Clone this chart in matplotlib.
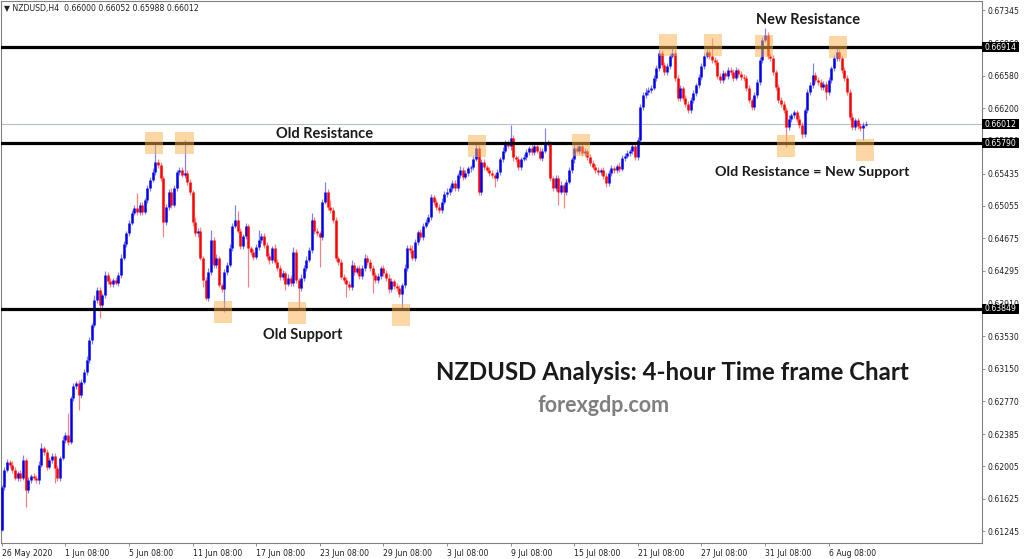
import matplotlib
matplotlib.use("Agg")
import matplotlib.pyplot as plt
import matplotlib.transforms as mtransforms
from matplotlib.patches import Rectangle
import numpy as np

# ---------------- data ----------------
symbol = "NZDUSD,H4"
header_ohlc = [0.66000, 0.66052, 0.65988, 0.66012]
first_open = 0.61260

closes = [
    0.61764, 0.61963, 0.62057, 0.62022, 0.61963, 0.61870, 0.61928, 0.61870, 0.62080, 0.61729,
    0.61846, 0.61893, 0.61870, 0.61846, 0.62022, 0.62221, 0.62174, 0.61998, 0.62080, 0.62127,
    0.61987, 0.61870, 0.62104, 0.62315, 0.62373, 0.62291, 0.62806, 0.62947, 0.62982, 0.62842,
    0.62994, 0.63111, 0.63251, 0.63486, 0.63661, 0.63954, 0.64071, 0.63895, 0.64012, 0.64247,
    0.64177, 0.64141, 0.64188, 0.64153, 0.64247, 0.64446, 0.64610, 0.64739, 0.64856, 0.64973,
    0.65031, 0.64985, 0.65066, 0.64985, 0.65125, 0.65265, 0.65359, 0.65453, 0.65570, 0.65535,
    0.65383, 0.64867, 0.65043, 0.65219, 0.65066, 0.65265, 0.65453, 0.65476, 0.65418, 0.65441,
    0.65336, 0.65222, 0.64873, 0.64734, 0.64767, 0.64447, 0.64188, 0.63977, 0.64282, 0.64657,
    0.64364, 0.64447, 0.64129, 0.64083, 0.64282, 0.64364, 0.64563, 0.64822, 0.64891, 0.64767,
    0.64586, 0.64703, 0.64815, 0.64563, 0.64516, 0.64457, 0.64575, 0.64657, 0.64703, 0.64598,
    0.64469, 0.64421, 0.64563, 0.64399, 0.64329, 0.64224, 0.64270, 0.64141, 0.64213, 0.64153,
    0.64516, 0.64188, 0.64095, 0.64213, 0.64329, 0.64421, 0.64540, 0.64891, 0.64767, 0.64734,
    0.64692, 0.65096, 0.65219, 0.65043, 0.65008, 0.64891, 0.64446, 0.64399, 0.64224, 0.64188,
    0.64141, 0.64106, 0.64364, 0.64282, 0.64329, 0.64235, 0.64329, 0.64446, 0.64399, 0.64329,
    0.64247, 0.64188, 0.64235, 0.64329, 0.64270, 0.64213, 0.64083, 0.64177, 0.64118, 0.64095,
    0.64024, 0.64129, 0.64329, 0.64563, 0.64540, 0.64446, 0.64633, 0.64750, 0.64692, 0.64822,
    0.64867, 0.64926, 0.65160, 0.65096, 0.65043, 0.65008, 0.65096, 0.65195, 0.65222, 0.65265,
    0.65324, 0.65265, 0.65418, 0.65476, 0.65394, 0.65441, 0.65494, 0.65511, 0.65601, 0.65736,
    0.65219, 0.65570, 0.65511, 0.65476, 0.65441, 0.65418, 0.65383, 0.65453, 0.65601, 0.65702,
    0.65792, 0.65753, 0.65851, 0.65629, 0.65601, 0.65511, 0.65601, 0.65629, 0.65687, 0.65736,
    0.65687, 0.65757, 0.65702, 0.65617, 0.65702, 0.65787, 0.65787, 0.65383, 0.65265, 0.65383,
    0.65222, 0.65304, 0.65219, 0.65336, 0.65476, 0.65601, 0.65736, 0.65702, 0.65753, 0.65675,
    0.65702, 0.65629, 0.65558, 0.65511, 0.65476, 0.65453, 0.65476, 0.65406, 0.65324, 0.65441,
    0.65494, 0.65476, 0.65528, 0.65487, 0.65617, 0.65646, 0.65675, 0.65702, 0.65753, 0.65629,
    0.65828, 0.66214, 0.66355, 0.66390, 0.66413, 0.66436, 0.66554, 0.66671, 0.66846, 0.66706,
    0.66624, 0.66694, 0.66811, 0.66846, 0.66554, 0.66319, 0.66436, 0.66319, 0.66249, 0.66179,
    0.66296, 0.66378, 0.66472, 0.66565, 0.66694, 0.66811, 0.66858, 0.66811, 0.66764, 0.66741,
    0.66577, 0.66530, 0.66612, 0.66577, 0.66647, 0.66624, 0.66554, 0.66647, 0.66600, 0.66565,
    0.66554, 0.66436, 0.66296, 0.66214, 0.66355, 0.66507, 0.66764, 0.66999, 0.67057, 0.66811,
    0.66788, 0.66624, 0.66448, 0.66296, 0.66249, 0.66179, 0.65980, 0.66077, 0.66117, 0.66152,
    0.66077, 0.66003, 0.65893, 0.66179, 0.66390, 0.66472, 0.66589, 0.66530, 0.66507, 0.66448,
    0.66483, 0.66390, 0.66530, 0.66671, 0.66788, 0.66858, 0.66788, 0.66647, 0.66554, 0.66390,
    0.66102, 0.65980, 0.66060, 0.65991, 0.65967, 0.66000, 0.66012,
]

# wick lengths beyond the candle body, in pips (0.0001)
upper_wick_pips = [
    2, 3, 4, 2, 5, 3, 2, 4, 6, 3,   3, 2, 4, 3, 5, 6, 2, 3, 4, 3,
    4, 3, 2, 5, 4, 26, 3, 4, 2, 3,  3, 4, 5, 3, 2, 6, 4, 3, 2, 5,
    4, 3, 2, 4, 3, 5, 3, 2, 4, 3,   3, 18, 4, 3, 2, 4, 3, 5, 22, 3,
    3, 2, 4, 3, 5, 3, 2, 4, 3, 39,  4, 3, 2, 5, 3, 4, 2, 3, 5, 12,
    3, 4, 2, 3, 4, 3, 5, 3, 18, 10, 3, 2, 4, 3, 2, 3, 4, 12, 3, 4,
    4, 3, 2, 5, 3, 4, 3, 2, 4, 3,   6, 3, 2, 4, 3, 5, 3, 8, 4, 3,
    3, 4, 12, 3, 8, 3, 4, 2, 3, 4,  3, 4, 6, 3, 2, 4, 3, 5, 3, 4,
    3, 4, 3, 2, 4, 3, 5, 3, 2, 3,   4, 3, 5, 3, 4, 6, 3, 2, 4, 3,
    3, 4, 3, 2, 4, 3, 5, 3, 4, 3,   4, 3, 2, 5, 3, 4, 3, 2, 4, 4,
    3, 4, 3, 2, 4, 3, 2, 4, 3, 4,   3, 4, 15, 3, 2, 4, 3, 4, 3, 2,
    4, 3, 2, 4, 3, 18, 4, 3, 2, 4,  3, 4, 2, 3, 4, 3, 5, 3, 2, 4,
    3, 2, 4, 3, 3, 4, 2, 3, 4, 3,   4, 3, 2, 4, 3, 3, 4, 2, 3, 4,
    3, 4, 3, 5, 3, 4, 3, 4, 4, 3,   3, 4, 2, 6, 3, 4, 3, 2, 4, 3,
    4, 3, 2, 4, 3, 3, 4, 3, 21, 3,  3, 4, 3, 2, 4, 3, 4, 3, 2, 4,
    3, 4, 3, 2, 4, 3, 4, 3, 8, 3,   4, 3, 2, 3, 4, 3, 3, 4, 3, 3,
    3, 4, 3, 2, 4, 3, 14, 3, 4, 3,  3, 4, 3, 2, 4, 5, 3, 4, 3, 3,
    3, 4, 3, 2, 3, 4, 4,
]
lower_wick_pips = [
    1, 3, 2, 4, 3, 2, 4, 3, 2, 20,  3, 4, 2, 3, 5, 2, 3, 4, 2, 3,
    18, 4, 3, 2, 3, 4, 2, 3, 3, 18, 3, 2, 4, 3, 5, 2, 3, 15, 4, 3,
    3, 4, 3, 2, 4, 3, 2, 3, 3, 2,   2, 3, 4, 3, 2, 3, 4, 2, 3, 4,
    4, 18, 3, 4, 3, 2, 3, 4, 2, 3,  3, 4, 5, 3, 4, 3, 8, 2, 3, 4,
    4, 3, 2, 3, 27, 3, 2, 4, 3, 3,  3, 4, 3, 46, 3, 4, 2, 3, 4, 3,
    3, 4, 3, 2, 4, 3, 3, 7, 2, 3,   3, 4, 26, 3, 4, 3, 2, 3, 4, 3,
    35, 3, 2, 4, 3, 3, 4, 3, 2, 3,  15, 3, 4, 3, 2, 4, 3, 3, 4, 3,
    21, 3, 4, 3, 3, 4, 5, 3, 4, 3,  3, 16, 3, 4, 3, 2, 4, 3, 3, 4,
    3, 2, 4, 3, 3, 4, 3, 2, 3, 4,   3, 4, 3, 3, 4, 2, 3, 4, 3, 2,
    4, 3, 4, 2, 3, 4, 11, 3, 4, 3,  3, 2, 4, 5, 3, 4, 3, 2, 3, 4,
    3, 4, 3, 2, 4, 3, 3, 4, 3, 3,   15, 3, 19, 3, 2, 3, 4, 3, 4, 3,
    3, 4, 3, 2, 4, 3, 4, 3, 5, 3,   3, 4, 3, 3, 2, 4, 3, 3, 4, 3,
    4, 3, 4, 3, 4, 3, 2, 3, 3, 4,   4, 3, 3, 2, 4, 3, 4, 3, 4, 3,
    3, 4, 3, 3, 4, 3, 2, 4, 3, 4,   3, 4, 3, 4, 3, 3, 4, 2, 3, 4,
    4, 3, 4, 3, 3, 4, 3, 3, 2, 4,   3, 4, 3, 4, 3, 4, 23, 3, 4, 3,
    4, 3, 4, 3, 3, 4, 3, 3, 4, 3,   4, 9, 3, 4, 3, 3, 4, 3, 3, 4,
    4, 3, 4, 3, 3, 14, 1,
]

tick_bars = [0, 24, 48, 72, 96, 120, 144, 168, 192, 216, 240, 264, 288, 312]
tick_labels = ["26 May 2020", "1 Jun 08:00", "5 Jun 08:00", "11 Jun 08:00",
               "17 Jun 08:00", "23 Jun 08:00", "29 Jun 08:00", "3 Jul 08:00",
               "9 Jul 08:00", "15 Jul 08:00", "21 Jul 08:00", "27 Jul 08:00",
               "31 Jul 08:00", "6 Aug 08:00"]
price_ticks = [0.67345, 0.66960, 0.66580, 0.66200, 0.65820, 0.65435, 0.65055,
               0.64675, 0.64295, 0.63910, 0.63530, 0.63150, 0.62770, 0.62385,
               0.62005, 0.61625, 0.61245]

level_prices = [0.66914, 0.65790, 0.63849]
bid_price = 0.66012

# highlighted touches: (bar centre, price centre)
touch_bars = [57.5, 68.9, 83.5, 111.4, 150.7, 179.4, 218.6, 251.4, 268.4, 287.7, 296.0, 315.6, 325.8]
touch_prices = [0.65792, 0.65792, 0.63813, 0.63802, 0.63778, 0.65757, 0.65769,
                0.66940, 0.66940, 0.66928, 0.65757, 0.66917, 0.65711]

# ---------------- derived OHLC ----------------
closes_a = np.array(closes)
opens_a = np.concatenate([[first_open], closes_a[:-1]])
highs_a = np.maximum(opens_a, closes_a) + np.array(upper_wick_pips) * 1e-4
lows_a = np.minimum(opens_a, closes_a) - np.array(lower_wick_pips) * 1e-4
n = len(closes_a)
x = np.arange(n)

# ---------------- figure ----------------
W, H = 1024, 559
fig = plt.figure(figsize=(W / 100, H / 100), dpi=100, facecolor="white")
ax = fig.add_axes([1 / W, 16 / H, 980.5 / W, 542 / H])
ax.set_facecolor("white")
ax.set_xlim(-0.264, 369.7)
ax.set_ylim(0.61109, 0.67455)

bull = closes_a >= opens_a
blue = "#0000EE"
red = "#FF0000"
cols = np.where(bull, blue, red)

# wicks
ax.vlines(x, lows_a, highs_a, colors=cols, linewidth=0.85, alpha=0.5, zorder=2)
# bodies
body_lo = np.minimum(opens_a, closes_a)
body_hi = np.maximum(opens_a, closes_a)
body_hi = np.maximum(body_hi, body_lo + 0.00006)
ax.vlines(x, body_lo, body_hi, colors=cols, linewidth=1.8, zorder=3)

# bid line and levels
ax.axhline(bid_price, color="#B8BFCC", linewidth=0.8, zorder=1)
for p in level_prices:
    ax.axhline(p, color="black", linewidth=2.3, zorder=4)

# highlight squares
sq_w = 7.0
sq_h = 22 / 8540
for b, p in zip(touch_bars, touch_prices):
    ax.add_patch(Rectangle((b - sq_w / 2, p - sq_h / 2), sq_w, sq_h,
                           facecolor="#F9B14B", alpha=0.5, edgecolor="none", zorder=5))

# axes styling
for s in ax.spines.values():
    s.set_color("#808080")
    s.set_linewidth(0.8)
ax.yaxis.tick_right()
ax.set_yticks(price_ticks)
ax.set_yticklabels([f"{p:.5f}" for p in price_ticks])
ax.set_xticks(tick_bars)
ax.set_xticklabels(tick_labels, ha="left")
ax.tick_params(axis="y", direction="out", length=2.5, width=0.6, colors="#808080",
               labelcolor="#202020", labelsize=5.6, pad=2)
ax.tick_params(axis="x", direction="out", length=2.5, width=0.6, colors="#808080",
               labelcolor="#202020", labelsize=5.6, pad=2)
for lab in ax.get_xticklabels() + ax.get_yticklabels():
    lab.set_fontfamily("DejaVu Sans")

# price boxes on the right axis
blend = mtransforms.blended_transform_factory(ax.transAxes, ax.transData)
box_h = 10 / 8540
for p in level_prices + [bid_price]:
    ax.add_patch(Rectangle((1.0008, p - box_h / 2), 37 / 980.5, box_h, transform=blend,
                           facecolor="black", edgecolor="none", clip_on=False, zorder=10))
    ax.text(1.0035, p, f"{p:.5f}", transform=blend, color="white", fontsize=5.6,
            va="center", ha="left", zorder=11, clip_on=False)

# header
fig.text(4 / W, 1 - 9 / H, "\u25BC " + symbol + "  " + " ".join(f"{v:.5f}" for v in header_ohlc),
         fontsize=5.6, color="#202020", va="center", ha="left")

# annotations
fam = ["Lato", "DejaVu Sans"]


def ptext(px, py, s, size, color="#1a1a1a", ha="center"):
    fig.text(px / W, 1 - py / H, s, fontsize=size, fontweight="bold", color=color,
             ha=ha, va="center", family=fam, zorder=20)


ptext(325, 134, "Old Resistance", 10.5)
ptext(303, 335, "Old Support", 10.5)
ptext(808, 20, "New Resistance", 10.5)
ptext(812, 172, "Old Resistance = New Support", 10.3)
ptext(672, 372, "NZDUSD Analysis: 4-hour Time frame Chart", 17.3)
ptext(604, 405, "forexgdp.com", 15.5, color="#7f7f7f")

fig.savefig("out.png", dpi=100, facecolor="white")
